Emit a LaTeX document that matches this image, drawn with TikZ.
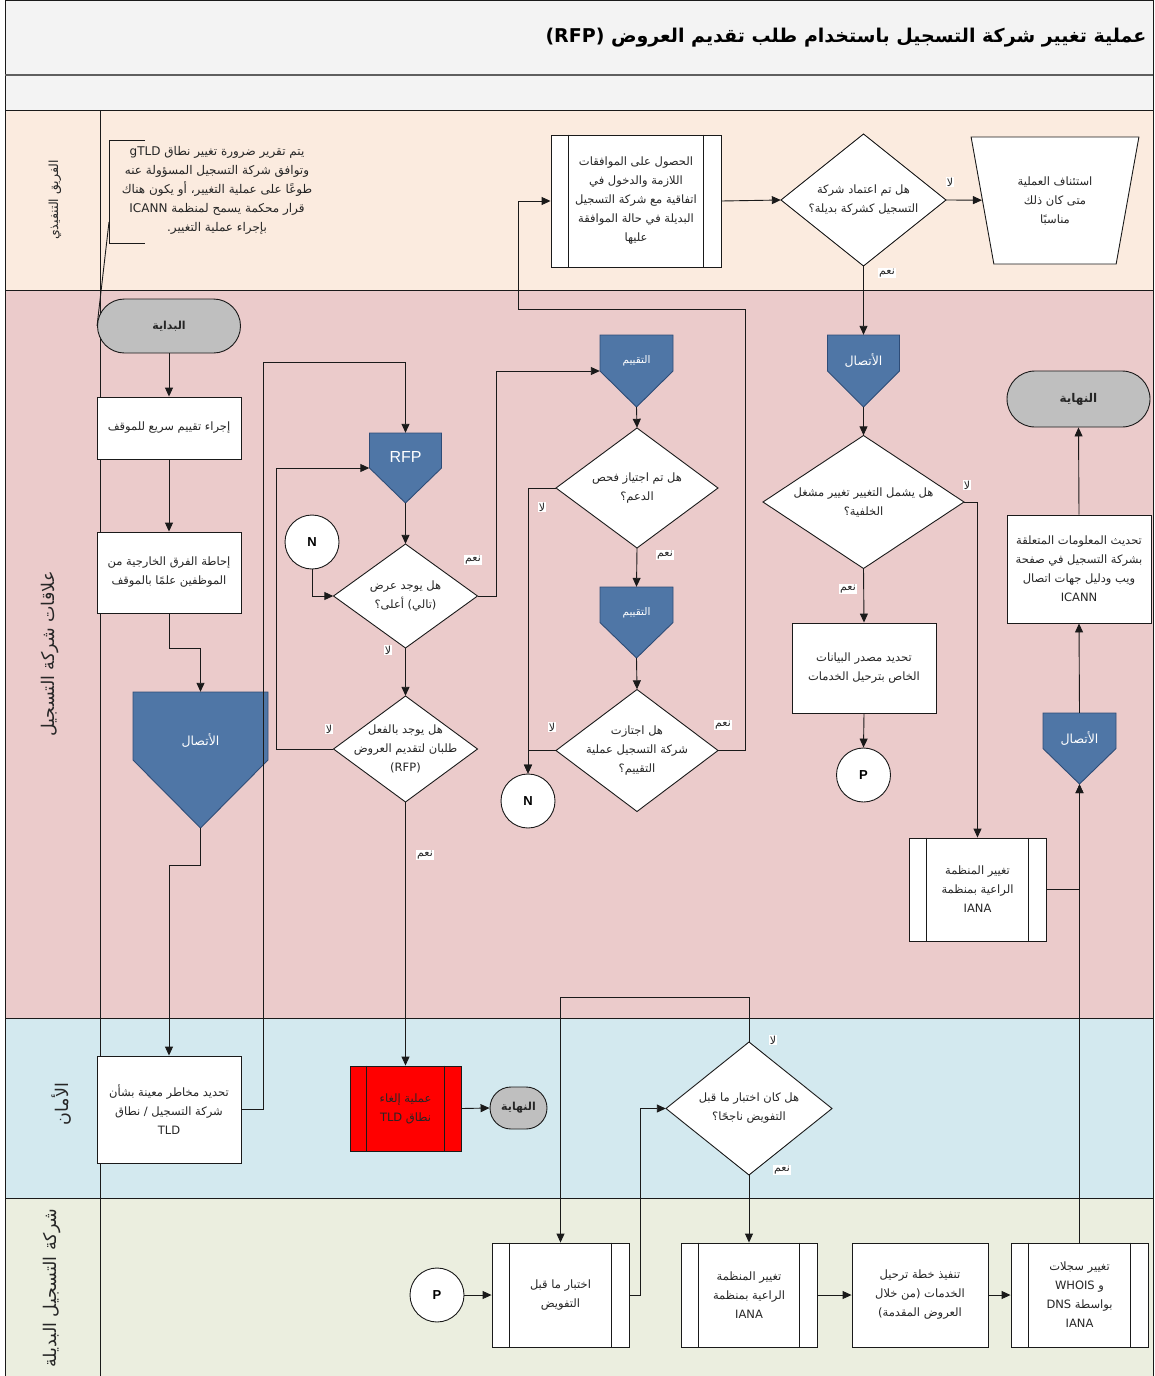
\documentclass[tikz,border=0pt]{standalone}
\usepackage{fontspec}
\setmainfont{Liberation Sans}
\newfontfamily\arf[Script=Arabic]{DejaVu Sans}
\TeXXeTstate=1
\usetikzlibrary{arrows.meta,shapes.geometric,calc}
\newcommand{\arln}[1]{\beginR#1\endR}
\definecolor{laneA}{HTML}{FBEBDF}
\definecolor{laneB}{HTML}{EBCBCB}
\definecolor{laneC}{HTML}{D3E9EF}
\definecolor{laneD}{HTML}{EBEEDF}
\definecolor{titlebg}{HTML}{F3F3F3}
\definecolor{connf}{HTML}{4F76A6}
\definecolor{connb}{HTML}{2E4C77}
\definecolor{termgray}{HTML}{BFBFBF}
\definecolor{linec}{HTML}{1A1A1A}
\definecolor{textc}{HTML}{262626}
\definecolor{redbox}{HTML}{FF0000}
\tikzset{
 ln/.style={draw=linec, line width=0.9pt},
 arr/.style={draw=linec, line width=0.9pt, -{Triangle[length=9pt,width=8pt]}},
 txt/.style={font=\arf\fontsize{11.5}{19}\selectfont, text=textc, align=center},
 boxsty/.style={txt, rectangle, draw=linec, line width=0.9pt, fill=white, inner sep=0pt},
 termsty/.style={boxsty, fill=termgray},
 circsty/.style={circle, draw=linec, line width=0.9pt, fill=white, minimum size=54pt, inner sep=0pt, font=\bfseries\fontsize{13}{15}\selectfont},
 yn/.style={font=\arf\fontsize{11}{12}\selectfont, fill=white, inner sep=1pt, text=textc},
 conntxt/.style={font=\arf\fontsize{12.5}{14}\selectfont, text=white},
 lanetxt/.style={font=\arf\fontsize{17.5}{20}\selectfont, text=textc, rotate=90},
}
% diamond: name, cx, cy, w, h, text
\newcommand{\diam}[6]{%
 \filldraw[ln, fill=white] (#2,{#3-#5/2}) -- ({#2+#4/2},#3) -- (#2,{#3+#5/2}) -- ({#2-#4/2},#3) -- cycle;
 \node[txt, minimum width=#4pt, minimum height=#5pt, inner sep=0pt] (#1) at (#2,#3) {#6};
}
% off-page connector: name, cx, cy, w, h, text
\newcommand{\pent}[6]{%
 \filldraw[draw=connb, line width=0.9pt, fill=connf] ({#2-#4/2},{#3-#5/2}) -- ({#2+#4/2},{#3-#5/2}) -- ({#2+#4/2},#3) -- (#2,{#3+#5/2}) -- ({#2-#4/2},#3) -- cycle;
 \node[minimum width=#4pt, minimum height=#5pt, inner sep=0pt] (#1) at (#2,#3) {};
 \node[conntxt] (#1t) at (#2,{#3-#5*0.14}) {#6};
}
% subprocess inner lines: name, inset
\newcommand{\subl}[2]{%
 \draw[ln] ([xshift=#2pt]#1.north west) -- ([xshift=#2pt]#1.south west);
 \draw[ln] ([xshift=-#2pt]#1.north east) -- ([xshift=-#2pt]#1.south east);
}
\begin{document}
\begin{tikzpicture}[x=1pt,y=-1pt]
\useasboundingbox (0,0) rectangle (1154,1376);
% ---------- background bands ----------
\fill[titlebg] (5,0) rectangle (1153,110);
\fill[laneA] (5,110) rectangle (1153,290);
\fill[laneB] (5,290) rectangle (1153,1018);
\fill[laneC] (5,1018) rectangle (1153,1198);
\fill[laneD] (5,1198) rectangle (1153,1376);
\draw[linec, line width=1pt] (5,1376) -- (5,0.5) -- (1153,0.5) -- (1153,1376);
\draw[linec!70, line width=1.6pt] (5,75) -- (1153,75);
\foreach \yy in {110,290,1018,1198} \draw[linec, line width=1pt] (5,\yy) -- (1153,\yy);
\draw[linec, line width=1pt] (100,110) -- (100,1376);
% ---------- title and lane labels ----------
\node[anchor=east, font=\arf\bfseries\fontsize{19}{21}\selectfont, text=black] (title) at (1150,38) {\arln{عملية تغيير شركة التسجيل باستخدام طلب تقديم العروض (RFP)}};
\node[lanetxt, font=\arf\fontsize{12.5}{14}\selectfont] (laneone) at (55,200) {\arln{الفريق التنفيذي}};
\node[lanetxt] (lanetwo) at (50,654) {\arln{علاقات شركة التسجيل}};
\node[lanetxt] (lanethree) at (62,1104) {\arln{الأمان}};
\node[lanetxt] (lanefour) at (52,1288) {\arln{شركة التسجيل البديلة}};
% ---------- lane 1 ----------
\node[txt, font=\arf\fontsize{12}{19}\selectfont] (annot) at (217,190) {\arln{يتم تقرير ضرورة تغيير نطاق gTLD}\\\arln{وتوافق شركة التسجيل المسؤولة عنه}\\\arln{طوعًا على عملية التغيير، أو يكون هناك}\\\arln{قرار محكمة يسمح لمنظمة ICANN}\\\arln{بإجراء عملية التغيير.}};
\draw[ln] (145,140) -- (109,140) -- (109,243) -- (145,243);
\coordinate (brk) at (109,222);
\node[boxsty, minimum width=170pt, minimum height=132pt] (appr) at (636,201) {\arln{الحصول على الموافقات}\\\arln{اللازمة والدخول في}\\\arln{اتفاقية مع شركة التسجيل}\\\arln{البديلة في حالة الموافقة}\\\arln{عليها}};
\subl{appr}{18}
\diam{d0}{863.5}{200}{165}{132}{\arln{هل تم اعتماد شركة}\\\arln{التسجيل كشركة بديلة؟}}
\node[trapezium, trapezium left angle=74, trapezium right angle=74, shape border rotate=180, trapezium stretches=true, minimum width=168pt, minimum height=127pt, draw=linec, line width=0.9pt, fill=white, txt, inner sep=0pt] (trap) at (1055,200.5) {\arln{استئناف العملية}\\\arln{متى كان ذلك}\\\arln{مناسبًا}};
% ---------- lane 2 ----------
\node[termsty, rounded corners=27pt, minimum width=143pt, minimum height=54pt, font=\arf\bfseries\fontsize{11}{13}\selectfont] (start) at (169,326) {\arln{البداية}};
\node[boxsty, minimum width=144pt, minimum height=62pt] (boxA) at (169,428) {\arln{إجراء تقييم سريع للموقف}};
\node[boxsty, minimum width=144pt, minimum height=81pt] (boxB) at (169,572.5) {\arln{إحاطة الفرق الخارجية من}\\\arln{الموظفين علمًا بالموقف}};
\pent{connBig}{200.5}{760}{135}{136}{\arln{الأتصال}}
\pent{rfp}{405.5}{468}{72}{70}{}
\node[font=\fontsize{16}{18}\selectfont, text=white] (rfptxt) at (405.5,457) {RFP};
\node[circsty] (n1) at (312,542) {N};
\diam{d1}{405.5}{596}{144}{104}{\arln{هل يوجد عرض}\\\arln{(تالي) أعلى؟}}
\diam{d2}{405.5}{749}{144}{106}{\arln{هل يوجد بالفعل}\\\arln{طلبان لتقديم العروض}\\(RFP)}
\pent{eval1}{636.5}{371}{73}{72}{\fontsize{10.5}{12}\selectfont\arln{التقييم}}
\diam{d3}{637}{488}{162}{120}{\arln{هل تم اجتياز فحص}\\\arln{الدعم؟}}
\pent{eval2}{636.5}{622.5}{73}{71}{\fontsize{10.5}{12}\selectfont\arln{التقييم}}
\diam{d4}{637}{750.5}{162}{122}{\arln{هل اجتازت}\\\arln{شركة التسجيل عملية}\\\arln{التقييم؟}}
\node[circsty] (n2) at (528,801) {N};
\pent{conn3}{863.5}{371}{72}{72}{\arln{الأتصال}}
\diam{d5}{863.5}{502}{201}{133}{\arln{هل يشمل التغيير تغيير مشغل}\\\arln{الخلفية؟}}
\node[boxsty, minimum width=144pt, minimum height=90pt] (data) at (864,668) {\arln{تحديد مصدر البيانات}\\\arln{الخاص بترحيل الخدمات}};
\node[circsty] (p1) at (863.5,775) {P};
\node[termsty, rounded corners=28pt, minimum width=143pt, minimum height=56pt, font=\arf\bfseries\fontsize{12}{14}\selectfont] (end2) at (1078.5,399) {\arln{النهاية}};
\node[boxsty, minimum width=144pt, minimum height=108pt] (update) at (1079,569) {\arln{تحديث المعلومات المتعلقة}\\\arln{بشركة التسجيل في صفحة}\\\arln{ويب ودليل جهات اتصال}\\ICANN};
\pent{conn4}{1079.5}{748.5}{73}{71}{\arln{الأتصال}}
\node[boxsty, minimum width=137pt, minimum height=103pt] (iana1) at (977.5,889.5) {\arln{تغيير المنظمة}\\\arln{الراعية بمنظمة}\\IANA};
\subl{iana1}{18}
% ---------- lane 3 ----------
\node[boxsty, minimum width=144pt, minimum height=107pt] (risk) at (169,1109.5) {\arln{تحديد مخاطر معينة بشأن}\\\arln{شركة التسجيل / نطاق}\\TLD};
\node[boxsty, fill=redbox, minimum width=111pt, minimum height=85pt] (red) at (405.5,1108.5) {\arln{عملية إلغاء}\\\arln{نطاق TLD}};
\subl{red}{17}
\node[termsty, rounded corners=21pt, minimum width=57pt, minimum height=42pt, font=\arf\bfseries\fontsize{11}{13}\selectfont] (end1) at (518.5,1108) {\arln{النهاية}};
\diam{d6}{749}{1108.5}{166}{133}{\arln{هل كان اختبار ما قبل}\\\arln{التفويض ناجحًا؟}}
% ---------- lane 4 ----------
\node[circsty] (p2) at (437,1295) {P};
\node[boxsty, minimum width=137pt, minimum height=104pt] (test) at (560.5,1295) {\arln{اختبار ما قبل}\\\arln{التفويض}};
\subl{test}{18}
\node[boxsty, minimum width=136pt, minimum height=104pt] (iana2) at (749,1295) {\arln{تغيير المنظمة}\\\arln{الراعية بمنظمة}\\IANA};
\subl{iana2}{18}
\node[boxsty, minimum width=136pt, minimum height=104pt] (mig) at (920,1295) {\arln{تنفيذ خطة ترحيل}\\\arln{الخدمات (من خلال}\\\arln{العروض المقدمة)}};
\node[boxsty, minimum width=137pt, minimum height=104pt] (whois) at (1079.5,1295) {\arln{تغيير سجلات}\\\arln{و WHOIS}\\\arln{بواسطة DNS}\\IANA};
\subl{whois}{18}
% ---------- connectors ----------
\draw[ln] (brk) -- (start.west);
\draw[arr] (start.south) -- (boxA.north);
\draw[arr] (boxA.south) -- (boxB.north);
\draw[arr] (boxB.south) -- ++(0,35) -| (connBig.north);
\draw[arr] (connBig.south) -- ++(0,37) -| (risk.north);
\draw[arr] (risk.east) -| (263,362) -| (rfp.north);
\draw[arr] (d2.west) -- ++(-57,0) |- (rfp.west);
\draw[arr] (rfp.south) -- (d1.north);
\draw[arr] (n1.south) |- (d1.west);
\draw[arr] (d1.south) -- (d2.north);
\draw[arr] (d1.east) -- ++(19,0) |- (eval1.west);
\draw[arr] (d2.south) -- (red.north);
\draw[arr] (red.east) -- (end1.west);
\draw[arr] (eval1.south) -- (d3.north);
\draw[arr] (d3.west) -| (n2.north);
\draw[arr] (d3.south) -- (eval2.north);
\draw[arr] (eval2.south) -- (d4.north);
\draw[arr] (d4.west) -| (n2.north);
\draw[arr] (d4.east) -| (745,309) -| (518,201) -- (appr.west);
\draw[arr] (appr.east) -- (d0.west);
\draw[arr] (d0.east) -- (trap);
\draw[arr] (d0.south) -- (conn3.north);
\draw[arr] (conn3.south) -- (d5.north);
\draw[arr] (d5.east) -| (iana1.north);
\draw[arr] (d5.south) -- (data.north);
\draw[arr] (data.south) -- (p1.north);
\draw[arr] (iana1.east) -| (conn4.south);
\draw[arr] (whois.north) -- (conn4.south);
\draw[arr] (conn4.north) -- (update.south);
\draw[arr] (update.north) -- (end2.south);
\draw[arr] (d6.north) -- ++(0,-44) -| (test.north);
\draw[arr] (test.east) -- ++(11,0) |- (d6.west);
\draw[arr] (d6.south) -- (iana2.north);
\draw[arr] (p2.east) -- (test.west);
\draw[arr] (iana2.east) -- (mig.west);
\draw[arr] (mig.east) -- (whois.west);
% ---------- yes / no labels ----------
\node[yn] (y0n) at (950,182) {\arln{لا}};
\node[yn] (y0y) at (887,273) {\arln{نعم}};
\node[yn] (y1y) at (473,560) {\arln{نعم}};
\node[yn] (y1n) at (388,650) {\arln{لا}};
\node[yn] (y2n) at (329,729) {\arln{لا}};
\node[yn] (y2y) at (425,855) {\arln{نعم}};
\node[yn] (y3n) at (542,507) {\arln{لا}};
\node[yn] (y3y) at (665,555) {\arln{نعم}};
\node[yn] (y4n) at (552,727) {\arln{لا}};
\node[yn] (y4y) at (723,725) {\arln{نعم}};
\node[yn] (y5n) at (967,485) {\arln{لا}};
\node[yn] (y5y) at (848,589) {\arln{نعم}};
\node[yn] (y6n) at (773,1040) {\arln{لا}};
\node[yn] (y6y) at (782,1170) {\arln{نعم}};
\end{tikzpicture}
\end{document}
